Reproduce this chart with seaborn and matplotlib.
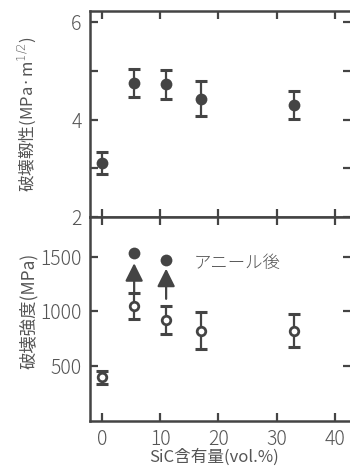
import numpy as np
import pandas as pd
import matplotlib
matplotlib.use('Agg')
import matplotlib.pyplot as plt
import seaborn as sns

# ---- data ----
sic = [0, 5.5, 11, 17, 33]                       # SiC content (vol.%)
toughness = [3.11, 4.75, 4.72, 4.43, 4.30]       # MPa m^1/2
toughness_err = [0.23, 0.28, 0.30, 0.36, 0.29]
strength = [400, 1052, 924, 823, 823]            # MPa (as sintered)
strength_err = [60, 120, 130, 170, 150]
anneal_sic = [5.5, 11]
anneal_strength = [1530, 1470]                   # MPa after annealing
arrow_base = [1160, 1115]
arrow_tip = [1440, 1390]

df = pd.DataFrame({'SiC': sic, 'K': toughness, 'Kerr': toughness_err,
                   'S': strength, 'Serr': strength_err})
df_ann = pd.DataFrame({'SiC': anneal_sic, 'S': anneal_strength})

sns.set_theme(style='ticks')
plt.rcParams['font.family'] = ['Noto Sans CJK JP', 'DejaVu Sans']
plt.rcParams['font.weight'] = 'light'
plt.rcParams['mathtext.fontset'] = 'dejavusans'

ink = '#444444'
txt = '#555555'

fig = plt.figure(figsize=(3.5, 4.71), dpi=100)
ax1 = fig.add_axes([0.257, 0.539, 0.746, 0.438])
ax2 = fig.add_axes([0.257, 0.106, 0.746, 0.433])

# ---- top: fracture toughness ----
ax1.errorbar(df['SiC'], df['K'], yerr=df['Kerr'], fmt='none', ecolor=ink,
             elinewidth=1.6, capsize=4.5, capthick=2.2, zorder=2)
sns.scatterplot(data=df, x='SiC', y='K', ax=ax1, color=ink, s=72,
                edgecolor=ink, linewidth=0, zorder=3, legend=False)
ax1.set_ylim(2, 6.23)
ax1.set_yticks([2, 4, 6])
ax1.set_yticks([3, 5], minor=True)
ax1.set_ylabel('破壊靱性(MPa·m$^{1/2}$)', fontsize=12, color=txt)
ax1.yaxis.set_label_coords(-0.20, 0.5)

# ---- bottom: fracture strength ----
ax2.errorbar(df['SiC'], df['S'], yerr=df['Serr'], fmt='none', ecolor=ink,
             elinewidth=1.6, capsize=4.5, capthick=2.2, zorder=2)
sns.scatterplot(data=df, x='SiC', y='S', ax=ax2, color='white', s=38,
                edgecolor=ink, linewidth=2.0, zorder=3, legend=False)
sns.scatterplot(data=df_ann, x='SiC', y='S', ax=ax2, color=ink, s=72,
                edgecolor=ink, linewidth=0, zorder=3, legend=False)
for xs, y0, y1 in zip(anneal_sic, arrow_base, arrow_tip):
    ax2.annotate('', xy=(xs, y1), xytext=(xs, y0),
                 arrowprops=dict(arrowstyle='-|>,head_length=0.9,head_width=0.45',
                                 color=ink, lw=1.6, shrinkA=0, shrinkB=0))
ax2.text(15.7, 1440, 'アニール後', fontsize=12.5, color=txt, va='center', ha='left')
ax2.set_ylim(0, 1860)
ax2.set_yticks([500, 1000, 1500])
ax2.set_ylabel('破壊強度(MPa)', fontsize=12.5, color=txt)
ax2.yaxis.set_label_coords(-0.20, 0.54)
ax2.set_xlabel('SiC含有量(vol.%)', fontsize=12, color=txt)
ax2.xaxis.set_label_coords(0.475, -0.135)

for ax in (ax1, ax2):
    ax.set_xlim(-2.1, 42.8)
    ax.set_xticks([0, 10, 20, 30, 40])
    for sp in ax.spines.values():
        sp.set_visible(True)
        sp.set_linewidth(1.8)
        sp.set_color(ink)
    ax.tick_params(which='both', direction='in', top=True, right=True,
                   length=5.5, width=1.6, color=ink, labelsize=14,
                   labelcolor=txt, pad=6)
ax1.tick_params(labelbottom=False)
ax1.set_xlabel('')

fig.savefig('out.png', dpi=100)
